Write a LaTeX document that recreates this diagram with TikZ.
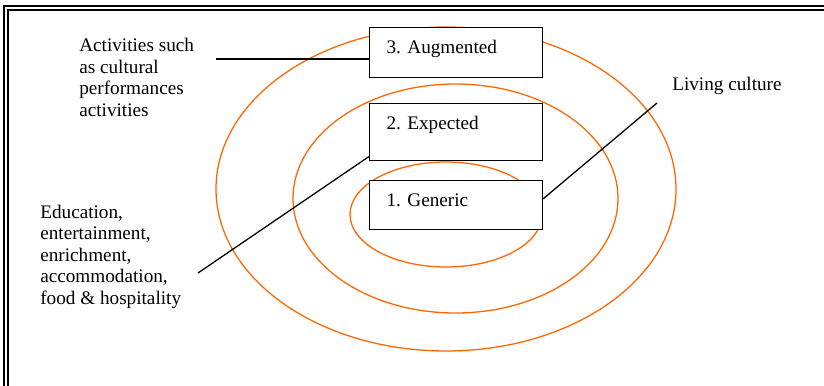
\documentclass[tikz,border=0pt]{standalone}
\usepackage{fontspec}
\setmainfont{Liberation Serif}
\frenchspacing
\definecolor{ringorange}{RGB}{255,102,0}
\tikzset{
  ring/.style={ringorange, line width=0.8pt},
  levelbox/.style={draw, fill=white, line width=0.8pt, anchor=north west,
    inner xsep=10.6pt, inner ysep=0pt, text width=86.9pt, align=left,
    text height=16.25pt},
  note/.style={anchor=base west, inner sep=0pt, align=left},
}

\begin{document}
\begin{tikzpicture}[x=0.625pt, y=-0.625pt, font=\fontsize{12}{13.4}\selectfont]
 \def\boxx{369}
 \useasboundingbox (0,0) rectangle (824,386);

    %Frame
    \draw[line width=1.7pt] (4,386) |- (824,6);
    \draw[line width=0.9pt] (8,386) |- (824,10);

    %Rings
    \draw[ring] (446,189) ellipse [x radius=230, y radius=162];
    \draw[ring] (455.5,198.5) ellipse [x radius=162.5, y radius=114.5];
    \draw[ring] (446,214.5) ellipse [x radius=96, y radius=52.5];

    % Levels
    \node[levelbox, text depth=15pt] (augmented) at (\boxx,27) {3. Augmented};
    \node[levelbox, text depth=19.4pt] (expected) at (\boxx,103) {2. Expected};
    \node[levelbox, text depth=14.4pt] (generic) at (\boxx,180) {1. Generic};

    % Notes (base = last line)
    \node[note] (activities) at (79,116) {Activities such\\as cultural\\performances\\activities};
    \node[note] (education) at (40,304) {Education,\\entertainment,\\enrichment,\\accommodation,\\food \& hospitality};
    \node[note] (living) at (672,90) {Living culture};

    \coordinate (a1) at (216,59);
    \coordinate (e1) at (198,273);
    \coordinate (l1) at (657,103);
    \draw[line width=0.8pt] (a1) -- (a1 -| augmented.west);
    \draw[line width=0.8pt] (e1) -- ([yshift=3pt]expected.south west);
    \draw[line width=0.8pt] ([yshift=4pt]generic.east) -- (l1);
\end{tikzpicture}
\end{document}
